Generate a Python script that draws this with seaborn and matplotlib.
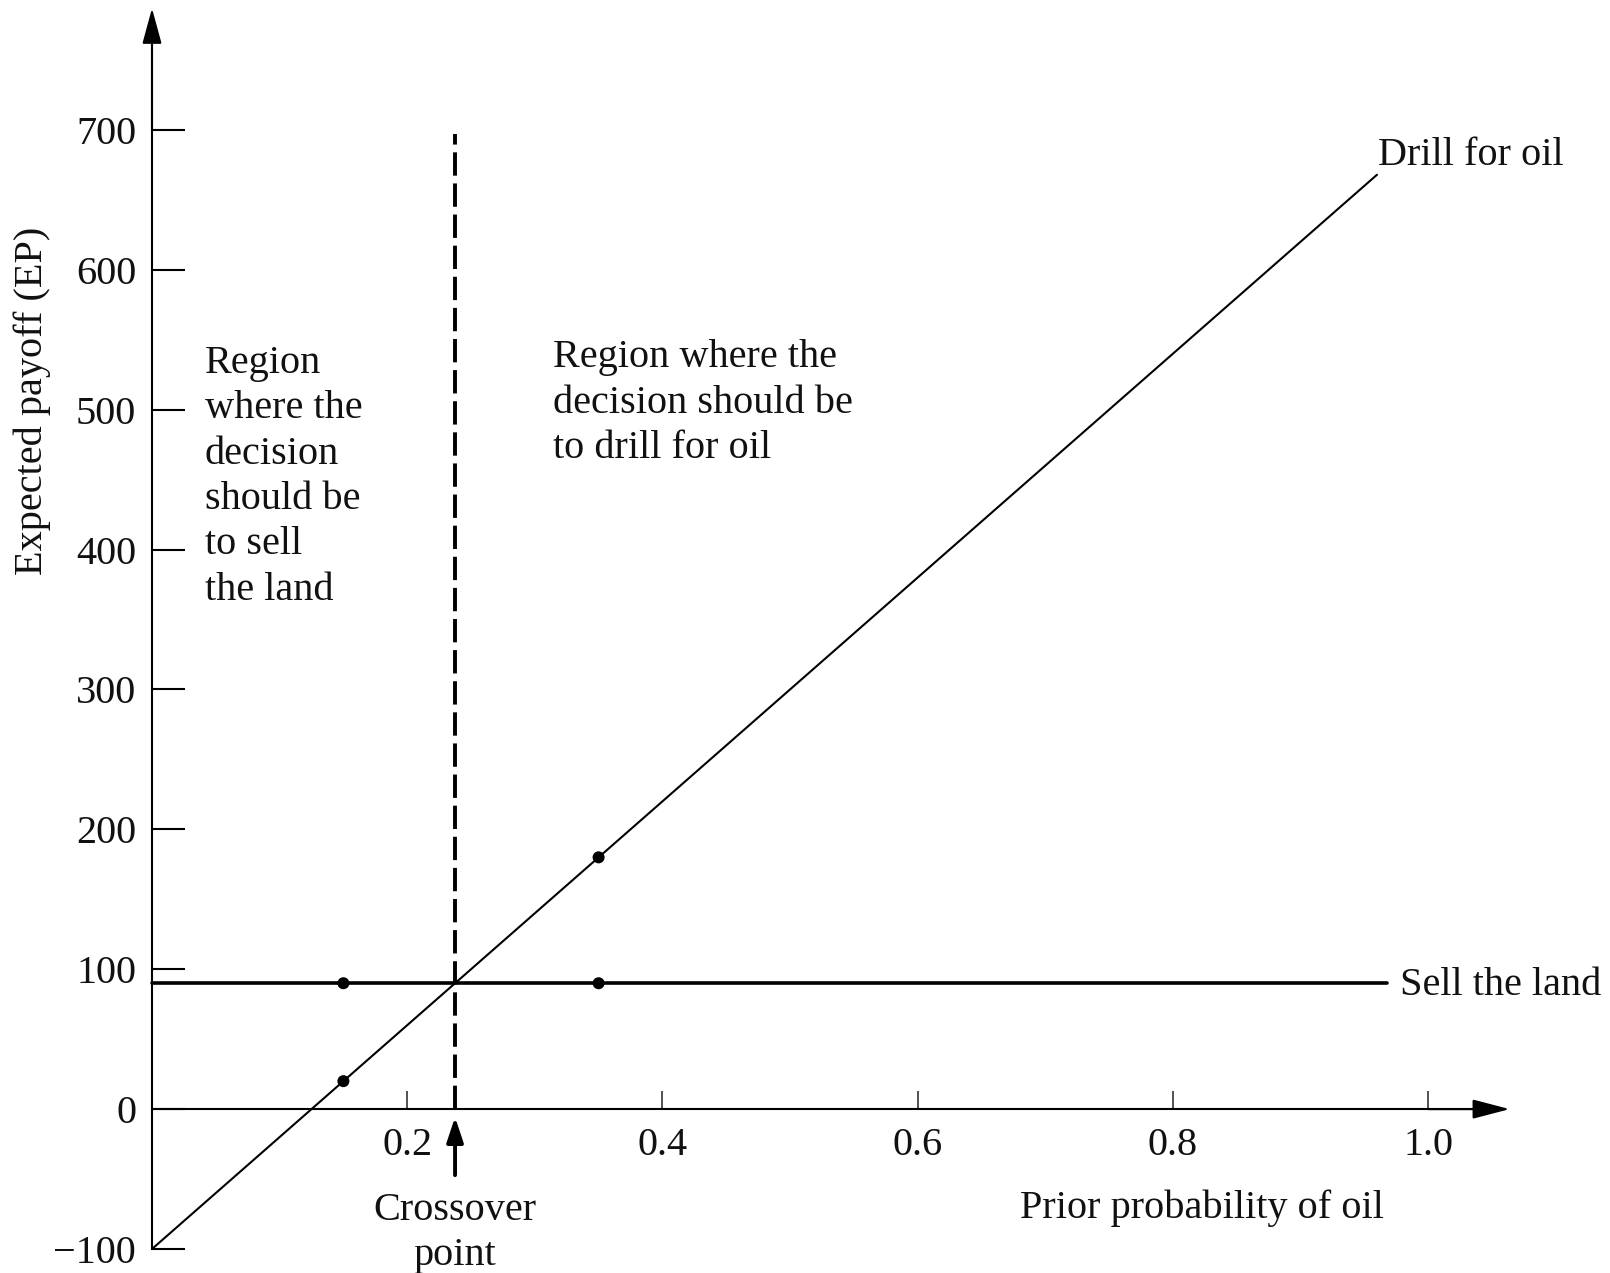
import numpy as np
import pandas as pd
import matplotlib
matplotlib.use('Agg')
import matplotlib.pyplot as plt
import seaborn as sns

# данные
prob_drill = [0.0, 0.96]
ep_drill = [-100, 668]
prob_sell = [0.0, 0.968]
ep_sell = [90, 90]
dot_prob = [0.15, 0.35]
dot_drill = [20, 180]
dot_sell = [90, 90]
crossover = 0.2375
x_ticks = [0.2, 0.4, 0.6, 0.8, 1.0]
x_tick_labels = ['0.2', '0.4', '0.6', '0.8', '1.0']
y_ticks = [-100, 0, 100, 200, 300, 400, 500, 600, 700]

sns.set_style('white')
plt.rcParams['font.family'] = ['Liberation Serif', 'DejaVu Serif']
fs = 29
ink = '#111111'

fig = plt.figure(figsize=(16.1, 12.73), dpi=100)
ax = fig.add_axes([0, 0, 1, 1])
ax.set_facecolor('white')

# линии
sns.lineplot(x=prob_drill, y=ep_drill, color='black', linewidth=1.5, ax=ax)
sns.lineplot(x=prob_sell, y=ep_sell, color='black', linewidth=2.6, ax=ax)
ax.plot([crossover, crossover], [0, 697], color='black', linewidth=2.8,
        linestyle=(0, (6, 2)))
sns.scatterplot(x=dot_prob, y=dot_drill, s=75, color='black', edgecolor='none', ax=ax, zorder=5)
sns.scatterplot(x=dot_prob, y=dot_sell, s=75, color='black', edgecolor='none', ax=ax, zorder=5)

ax.set_xlim(-0.11912, 1.14263)
ax.set_ylim(-117.16, 792.94)

# оси в нуле
for s in ['top', 'right']:
    ax.spines[s].set_visible(False)
ax.spines['left'].set_position(('data', 0))
ax.spines['bottom'].set_position(('data', 0))
ax.spines['left'].set_bounds(-100, 770)
ax.spines['bottom'].set_bounds(0, 1.04)
ax.spines['left'].set_linewidth(1.5)
ax.spines['bottom'].set_linewidth(1.5)
ax.spines['left'].set_color('black')
ax.spines['bottom'].set_color('black')

ax.annotate('', xy=(0, 787), xytext=(0, 700),
            arrowprops=dict(arrowstyle='-|>,head_length=2.2,head_width=0.6',
                            color='black', lw=1.5, shrinkA=0, shrinkB=0, mutation_scale=10))
ax.annotate('', xy=(1.064, 0), xytext=(1.0, 0),
            arrowprops=dict(arrowstyle='-|>,head_length=2.3,head_width=0.6',
                            color='black', lw=1.5, shrinkA=0, shrinkB=0, mutation_scale=10))

ax.set_yticks(y_ticks)
ax.set_yticklabels([f'{v:d}'.replace('-', '\u2212') for v in y_ticks])
ax.set_xticks(x_ticks)
ax.set_xticklabels(x_tick_labels)
ax.tick_params(axis='y', direction='in', length=23.5, width=1.5, pad=11.5,
               labelsize=fs, labelcolor=ink, left=True, color='black')
ax.tick_params(axis='x', direction='in', length=13, width=1.2, pad=13,
               labelsize=fs, labelcolor=ink, bottom=True, color='#333333')

# подписи
ax.text(-0.094, 506, 'Expected payoff (EP)', rotation=90, ha='center', va='center',
        fontsize=fs, color=ink)
ax.text(0.680, -77.9, 'Prior probability of oil', ha='left', va='baseline',
        fontsize=fs, color=ink)
ax.text(0.961, 675, 'Drill for oil', ha='left', va='baseline', fontsize=fs, color=ink)
ax.text(0.978, 81.5, 'Sell the land', ha='left', va='baseline', fontsize=fs, color=ink)
ax.text(0.0415, 546.5, 'Region\nwhere the\ndecision\nshould be\nto sell\nthe land',
        ha='left', va='top', fontsize=fs, color=ink, linespacing=1.3)
ax.text(0.314, 550.5, 'Region where the\ndecision should be\nto drill for oil',
        ha='left', va='top', fontsize=fs, color=ink, linespacing=1.3)
ax.text(crossover, -59.3, 'Crossover\npoint', ha='center', va='top',
        fontsize=fs, color=ink, linespacing=1.3, multialignment='center')
ax.annotate('', xy=(crossover, -5.7), xytext=(crossover, -47.2),
            arrowprops=dict(arrowstyle='-|>,head_length=1.5,head_width=0.5',
                            color='black', lw=2.8, shrinkA=0, shrinkB=0, mutation_scale=10))

fig.savefig('out.png', dpi=100, facecolor='white')
